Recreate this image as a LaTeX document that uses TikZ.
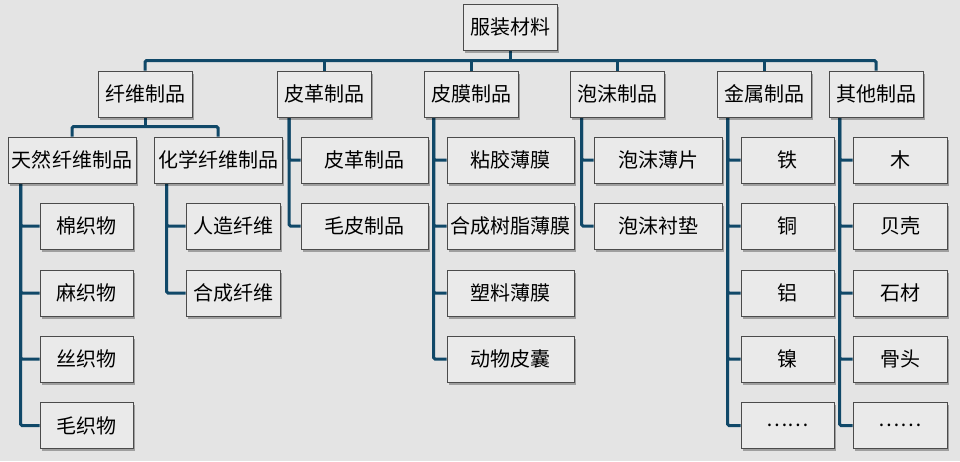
\documentclass[tikz,border=0pt]{standalone}
\usepackage{fontspec}
\setmainfont{Noto Sans CJK SC}
\usetikzlibrary{shadows}
\definecolor{bgc}{RGB}{228,228,228}
\definecolor{boxc}{RGB}{234,234,234}
\definecolor{edgec}{RGB}{75,75,75}
\definecolor{linec}{RGB}{16,72,104}
\pgfdeclarelayer{bglayer}
\pgfdeclarelayer{linelayer}
\pgfsetlayers{bglayer,linelayer,main}
\tikzset{
  box/.style={draw=edgec, line width=0.9pt, fill=boxc, minimum height=46pt, inner sep=0pt,
    font=\fontsize{20}{23}\selectfont, text=black,
    general shadow={fill=black, opacity=0.3, shadow xshift=1.8pt, shadow yshift=-2.6pt}},
  conn/.style={draw=linec, line width=3pt, rounded corners=1.5pt},
}
\begin{document}
\begin{tikzpicture}[x=1pt,y=-1pt]
\begin{pgfonlayer}{bglayer}
\fill[bgc] (0,0) rectangle (960,461);
\end{pgfonlayer}
\useasboundingbox (0,0) rectangle (960,461);
% root
\node[box, minimum width=94pt] (root) at (510,27) {服装材料};
% level 1
\node[box, minimum width=94pt] (xw) at (145,94) {纤维制品};
\node[box, minimum width=94pt] (pg) at (324.5,94) {皮革制品};
\node[box, minimum width=94pt] (pm) at (471,94) {皮膜制品};
\node[box, minimum width=94pt] (pmo) at (617,94) {泡沫制品};
\node[box, minimum width=94pt] (js) at (764,94) {金属制品};
\node[box, minimum width=94pt] (qt) at (876,94) {其他制品};
% level 2 fibre
\node[box, minimum width=128pt] (tr) at (72,160) {天然纤维制品};
\node[box, minimum width=128pt] (hx) at (218,160) {化学纤维制品};
% tianran children
\node[box, minimum width=93pt] (tr1) at (86.5,226) {棉织物};
\node[box, minimum width=93pt] (tr2) at (86.5,293) {麻织物};
\node[box, minimum width=93pt] (tr3) at (86.5,359) {丝织物};
\node[box, minimum width=93pt] (tr4) at (86.5,425.5) {毛织物};
% huaxue children
\node[box, minimum width=94pt] (hx1) at (233,226) {人造纤维};
\node[box, minimum width=94pt] (hx2) at (233,293) {合成纤维};
% pige children
\node[box, minimum width=127pt] (pg1) at (364.5,160) {皮革制品};
\node[box, minimum width=127pt] (pg2) at (364.5,226) {毛皮制品};
% pimo children
\node[box, minimum width=127pt] (pm1) at (510.5,160) {粘胶薄膜};
\node[box, minimum width=127pt] (pm2) at (510.5,226) {合成树脂薄膜};
\node[box, minimum width=127pt] (pm3) at (510.5,293) {塑料薄膜};
\node[box, minimum width=127pt] (pm4) at (510.5,359) {动物皮囊};
% paomo children
\node[box, minimum width=128pt] (po1) at (658,160) {泡沫薄片};
\node[box, minimum width=128pt] (po2) at (658,226) {泡沫衬垫};
% jinshu children
\node[box, minimum width=93pt] (js1) at (787.5,160) {铁};
\node[box, minimum width=93pt] (js2) at (787.5,226) {铜};
\node[box, minimum width=93pt] (js3) at (787.5,293) {铝};
\node[box, minimum width=93pt] (js4) at (787.5,359) {镍};
\node[box, minimum width=93pt] (js5) at (787.5,425.5) {……};
% qita children
\node[box, minimum width=94pt] (qt1) at (900,160) {木};
\node[box, minimum width=94pt] (qt2) at (900,226) {贝壳};
\node[box, minimum width=94pt] (qt3) at (900,293) {石材};
\node[box, minimum width=94pt] (qt4) at (900,359) {骨头};
\node[box, minimum width=94pt] (qt5) at (900,425.5) {……};

\begin{pgfonlayer}{linelayer}
% top bus
\draw[conn] (root.south) -- ++(0,11);
\draw[conn] (xw.north) -- ++(0,-10) -| (qt.north);
\draw[conn] (pg.north) -- ++(0,-10);
\draw[conn] (pm.north) -- ++(0,-10);
\draw[conn] (pmo.north) -- ++(0,-10);
\draw[conn] (js.north) -- ++(0,-10);
% fibre sub-bus
\draw[conn] (xw.south) -- ++(0,10);
\draw[conn] (tr.north) -- ++(0,-10) -| (hx.north);
% children
\foreach \c in {tr1,tr2,tr3,tr4} \draw[conn] ([xshift=13pt]tr.south west) |- (\c.west);
\foreach \c in {hx1,hx2} \draw[conn] ([xshift=13pt]hx.south west) |- (\c.west);
\foreach \c in {pg1,pg2} \draw[conn] ([xshift=12pt]pg.south west) |- (\c.west);
\foreach \c in {pm1,pm2,pm3,pm4} \draw[conn] ([xshift=10pt]pm.south west) |- (\c.west);
\foreach \c in {po1,po2} \draw[conn] ([xshift=12pt]pmo.south west) |- (\c.west);
\foreach \c in {js1,js2,js3,js4,js5} \draw[conn] ([xshift=11pt]js.south west) |- (\c.west);
\foreach \c in {qt1,qt2,qt3,qt4,qt5} \draw[conn] ([xshift=11pt]qt.south west) |- (\c.west);
\end{pgfonlayer}
\end{tikzpicture}
\end{document}
